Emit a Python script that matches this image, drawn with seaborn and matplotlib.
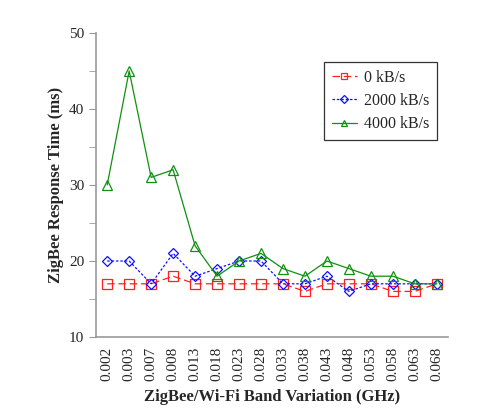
import matplotlib
matplotlib.use("Agg")
import matplotlib.pyplot as plt
import seaborn as sns
import pandas as pd
import numpy as np
from matplotlib.ticker import MultipleLocator

bands = ["0.002", "0.003", "0.007", "0.008", "0.013", "0.018", "0.023", "0.028",
         "0.033", "0.038", "0.043", "0.048", "0.053", "0.058", "0.063", "0.068"]
rate_0 = [17, 17, 17, 18, 17, 17, 17, 17, 17, 16, 17, 17, 17, 16, 16, 17]
rate_2000 = [20, 20, 17, 21, 18, 19, 20, 20, 17, 17, 18, 16, 17, 17, 17, 17]
rate_4000 = [30, 45, 31, 32, 22, 18, 20, 21, 19, 18, 20, 19, 18, 18, 17, 17]
series_names = ["0 kB/s", "2000 kB/s", "4000 kB/s"]

df = pd.DataFrame({"band": bands * 3,
                   "pos": list(range(len(bands))) * 3,
                   "time": rate_0 + rate_2000 + rate_4000,
                   "rate": np.repeat(series_names, len(bands))})

sns.set_style("white")
plt.rcParams["font.family"] = ["Liberation Serif", "DejaVu Serif"]

fig = plt.figure(figsize=(4.81, 4.12), dpi=100)
ax = fig.add_axes([0.2, 0.182, 0.731, 0.738])

styles = {
    "0 kB/s": dict(color="#ff2020", marker="s", dashes=(6, 3)),
    "2000 kB/s": dict(color="#1010ff", marker="D", dashes=(2, 1.5)),
    "4000 kB/s": dict(color="#109010", marker="^", dashes=None),
}
for name in series_names:
    st = styles[name]
    sub = df[df["rate"] == name]
    sns.lineplot(x="pos", y="time", data=sub, ax=ax, color=st["color"], marker=st["marker"],
                 markersize=7 if st["marker"] != "D" else 5.5, markerfacecolor="none",
                 markeredgecolor=st["color"], markeredgewidth=0.9, linewidth=0.9, label=name)
    if st["dashes"]:
        ax.lines[-1].set_dashes(st["dashes"])

ax.set_xlim(-0.5, len(bands) - 0.5)
ax.set_ylim(10, 50)
ax.set_xticks(range(len(bands)))
ax.set_xticklabels(bands, rotation=90, fontsize=11)
ax.yaxis.set_major_locator(MultipleLocator(10))
ax.yaxis.set_minor_locator(MultipleLocator(5))
ax.tick_params(axis="y", which="both", direction="out", left=True, length=5, color="#999999", labelsize=11)
ax.tick_params(axis="x", bottom=False, labelsize=11)
for s in ["top", "right"]:
    ax.spines[s].set_visible(False)
for s in ["left", "bottom"]:
    ax.spines[s].set_color("#999999")
    ax.spines[s].set_linewidth(1.2)

ax.set_xlabel("ZigBee/Wi-Fi Band Variation (GHz)", fontsize=12, fontweight="bold", labelpad=6)
ax.set_ylabel("ZigBee Response Time (ms)", fontsize=12, fontweight="bold")

leg = ax.legend(loc="upper right", bbox_to_anchor=(0.969, 0.905), borderaxespad=0,
                fontsize=11.5, frameon=True, fancybox=False, edgecolor="black",
                handlelength=1.6, handletextpad=0.4, markerscale=0.7, borderpad=0.5,
                labelspacing=0.45)
leg.get_frame().set_linewidth(0.9)

fig.savefig("out.png", dpi=100)
